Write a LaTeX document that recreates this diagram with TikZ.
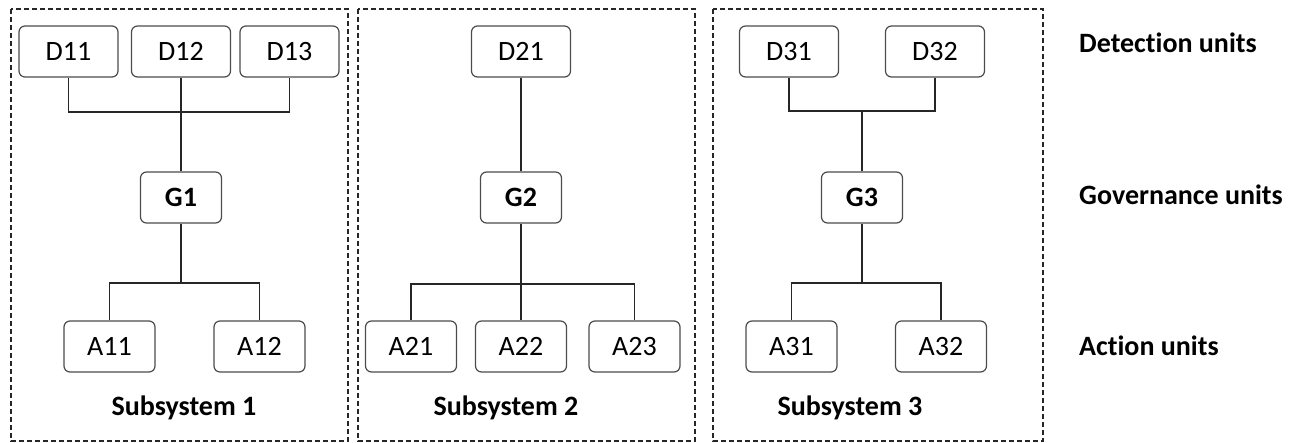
\documentclass[tikz,border=0pt]{standalone}
\usepackage{fontspec}
\setmainfont{Carlito}[Ligatures={NoCommon,NoContextual}]
\usepackage{tikz}

\begin{document}
\begin{tikzpicture}[x=1pt, y=-1pt,
        unit/.style={draw=black!70, line width=1.2pt, rounded corners=6pt, minimum height=51pt, inner sep=0pt, font=\fontsize{28}{30}\selectfont},
        det/.style={unit, minimum width=99pt},
        gov/.style={unit, minimum width=81pt, font=\fontsize{28}{30}\selectfont\bfseries},
        act/.style={unit, minimum width=91pt},
        link/.style={draw=black!85, line width=1.2pt},
        sub/.style={draw=black!85, line width=1.4pt, dash pattern=on 5pt off 3pt},
        title/.style={font=\fontsize{28}{30}\selectfont\bfseries, inner sep=0pt}]
        \useasboundingbox (0,0) rectangle (1302,443);

        % subsystem 1
        \node[det] (d11) at (68.5, 51.5) {D11};
        \node[det] (d12) at (181, 51.5) {D12};
        \node[det] (d13) at (289.5, 51.5) {D13};
        \node[gov] (g1) at (181, 197.5) {G1};
        \node[act] (a11) at (109.5, 346.5) {A11};
        \node[act] (a12) at (259.5, 346.5) {A12};
        \coordinate (b1) at (181, 112);
        \coordinate (c1) at (181, 283);

        % subsystem 2
        \node[det] (d21) at (521, 51.5) {D21};
        \node[gov] (g2) at (521, 197.5) {G2};
        \node[act] (a21) at (411, 346.5) {A21};
        \node[act] (a22) at (521, 346.5) {A22};
        \node[act] (a23) at (634.5, 346.5) {A23};
        \coordinate (c2) at (521, 284);

        % subsystem 3
        \node[det] (d31) at (789, 51.5) {D31};
        \node[det] (d32) at (935, 51.5) {D32};
        \node[gov] (g3) at (862, 197.5) {G3};
        \node[act] (a31) at (791.5, 346.5) {A31};
        \node[act] (a32) at (941, 346.5) {A32};
        \coordinate (b3) at (862, 111);
        \coordinate (c3) at (862, 283);

        \draw[link] (d11) |- (b1) -| (d13);
        \draw[link] (d12) -- (g1) -- (c1);
        \draw[link] (a11) |- (c1) -| (a12);

        \draw[link] (d21) -- (g2) -- (a22);
        \draw[link] (a21) |- (c2) -| (a23);

        \draw[link] (d31) |- (b3) -| (d32);
        \draw[link] (b3) -- (g3) -- (c3);
        \draw[link] (a31) |- (c3) -| (a32);

        \draw[sub] (11, 9) rectangle (348, 441);
        \draw[sub] (358, 9) rectangle (695, 441);
        \draw[sub] (713, 9) rectangle (1043, 441);

        \node[title, anchor=base] (s1) at (184, 416) {Subsystem 1};
        \node[title, anchor=base] (s2) at (506, 416) {Subsystem 2};
        \node[title, anchor=base] (s3) at (850, 416) {Subsystem 3};

        \node[title, anchor=base west] (ldet) at (1079, 53) {Detection units};
        \node[title, anchor=base west] (lgov) at (1079, 205) {Governance units};
        \node[title, anchor=base west] (lact) at (1079, 356) {Action units};
    \end{tikzpicture}
\end{document}
